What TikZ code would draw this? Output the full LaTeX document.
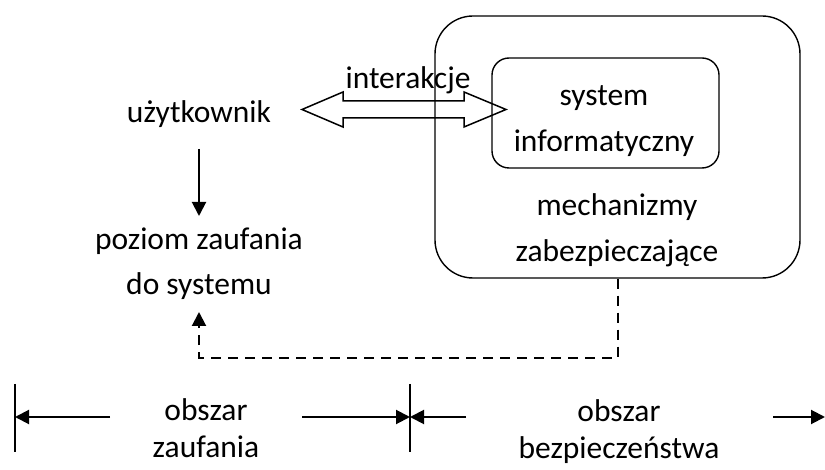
\documentclass[tikz,border=0pt]{standalone}
\usepackage{fontspec}
\setmainfont{Carlito}
\usetikzlibrary{arrows.meta}
\begin{document}
\begin{tikzpicture}[x=1pt,y=-1pt,
  label/.style={font=\fontsize{31.5}{#1}\selectfont, align=center, inner sep=0pt},
  label/.default=40,
  frame/.style={draw, line width=1.4pt, rounded corners=#1},
  arr/.style={line width=2pt, -{Triangle[length=14pt,width=14pt]}},
  dasharr/.style={arr, dash pattern=on 10pt off 7pt},
  bound/.style={line width=1.2pt}]
\useasboundingbox (0,0) rectangle (825,470);

% security mechanisms around the information system
\node[frame=38, minimum width=365pt, minimum height=262pt] (outer) at (617.5,147) {};
\node[frame=17, minimum width=227pt, minimum height=110pt] (inner) at (605.5,113) {};
\node[label=46] (sys) at (604,121) {system\\informatyczny};
\node[label=46] (mech) at (617,230) {mechanizmy\\zabezpieczające};

% user and trust
\node[label] (user) at (199,114) {użytkownik};
\node[label=45] (trust) at (199,264) {poziom zaufania\\do systemu};
\node[label] (inter) at (408,80) {interakcje};

% hollow two-headed arrow for interactions
\draw[line width=1.5pt, line join=miter]
  (302,109.5) -- (343,92) -- (343,101) -- (464,101) -- (464,92) -- (506,109.5)
  -- (464,127) -- (464,118) -- (343,118) -- (343,127) -- cycle;

% user -> trust
\coordinate (u1) at (199,149);
\coordinate (t1) at (199,216);
\draw[arr] (u1) -- (t1);

% feedback from mechanisms to trust
\coordinate (t2) at (199,312);
\draw[dasharr] (outer.south) -- ++(0,79) -| (t2);

% area markers
\coordinate (b0) at (15,384);
\coordinate (b0e) at (15,452);
\coordinate (b1) at (410,384);
\coordinate (b1e) at (410,452);
\draw[bound] (b0) -- (b0e);
\draw[bound] (b1) -- (b1e);
\node[label=37] (trustarea) at (206,428) {obszar\\zaufania};
\node[label=37] (secarea) at (619,432) {obszar\\bezpieczeństwa};
\coordinate (a1) at (110,417);
\coordinate (a2) at (302,417);
\coordinate (a3) at (466,417);
\coordinate (a4) at (773,417);
\coordinate (a5) at (825,417);
\draw[arr] (a1) -- (b0 |- a1);
\draw[arr] (a2) -- (b1 |- a2);
\draw[arr] (a3) -- (b1 |- a3);
\draw[arr] (a4) -- (a5);
\end{tikzpicture}
\end{document}
